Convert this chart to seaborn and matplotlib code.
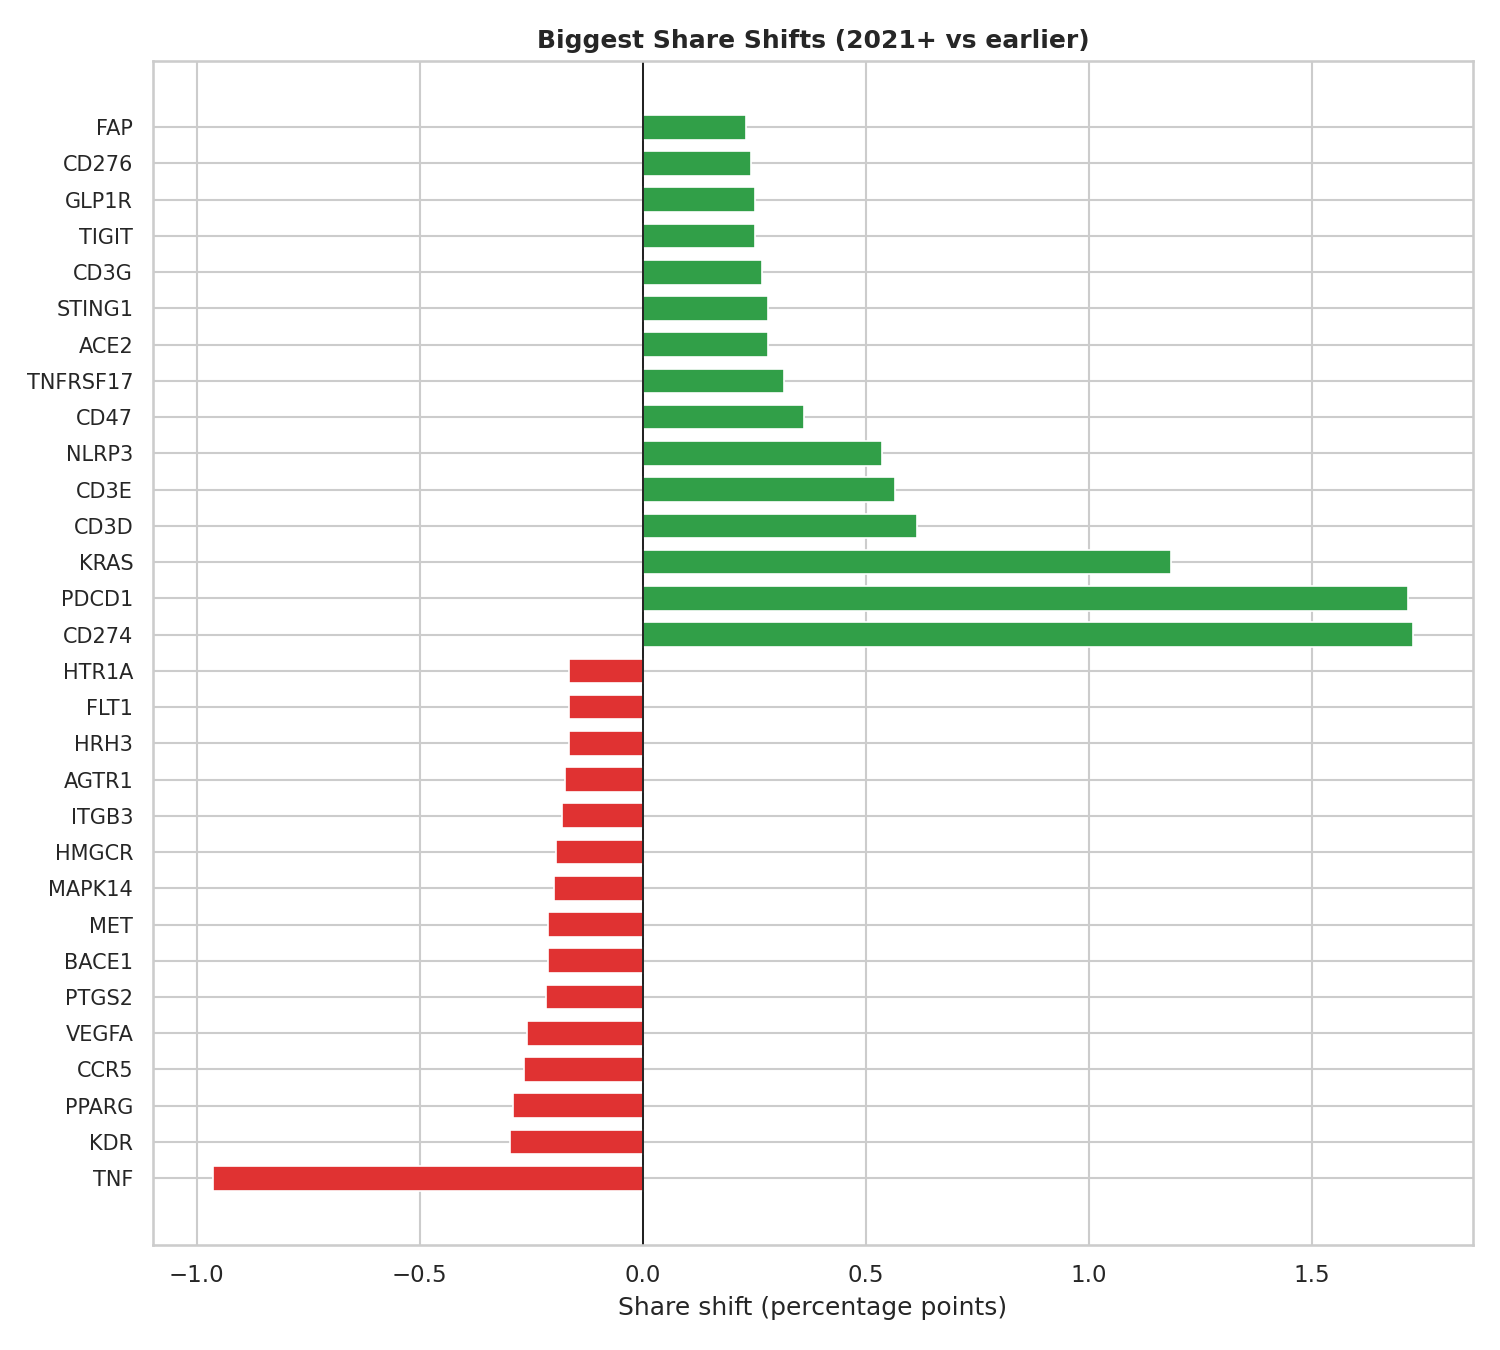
import pandas as pd
import matplotlib.pyplot as plt
import seaborn as sns

sns.set_theme(style="whitegrid")

genes = ["FAP", "CD276", "GLP1R", "TIGIT", "CD3G", "STING1", "ACE2", "TNFRSF17",
         "CD47", "NLRP3", "CD3E", "CD3D", "KRAS", "PDCD1", "CD274",
         "HTR1A", "FLT1", "HRH3", "AGTR1", "ITGB3", "HMGCR", "MAPK14", "MET",
         "BACE1", "PTGS2", "VEGFA", "CCR5", "PPARG", "KDR", "TNF"]
shift = [0.231, 0.242, 0.251, 0.251, 0.267, 0.281, 0.281, 0.316,
         0.361, 0.536, 0.566, 0.615, 1.183, 1.715, 1.726,
         -0.166, -0.166, -0.166, -0.175, -0.182, -0.195, -0.198, -0.213,
         -0.213, -0.218, -0.260, -0.267, -0.292, -0.298, -0.963]

df = pd.DataFrame({"gene": genes, "shift": shift})
df["dir"] = ["up" if v > 0 else "down" for v in df["shift"]]

fig, ax = plt.subplots(figsize=(10, 9), dpi=150)
sns.barplot(data=df, x="shift", y="gene", hue="dir", orient="h",
            palette={"up": "#319f48", "down": "#e03232"}, dodge=False,
            saturation=1, width=0.68, edgecolor="white", linewidth=0.8,
            legend=False, ax=ax)
ax.axvline(0, color="black", linewidth=0.8)
ax.grid(True, axis="both")
ax.set_axisbelow(True)

# mimic matplotlib default margins instead of seaborn's tight categorical limits
n = len(genes)
pad = 0.05 * (n - 1 + 0.7)
ax.set_ylim(n - 1 + 0.35 + pad, -0.35 - pad)
ax.set_xlim(-1.098, 1.861)
ax.tick_params(axis="y", labelsize=10)

ax.set_title("Biggest Share Shifts (2021+ vs earlier)", fontweight="bold")
ax.set_xlabel("Share shift (percentage points)")
ax.set_ylabel("")
plt.subplots_adjust(left=0.102, right=0.982, top=0.955, bottom=0.078)
plt.savefig("out.png")
plt.close()
